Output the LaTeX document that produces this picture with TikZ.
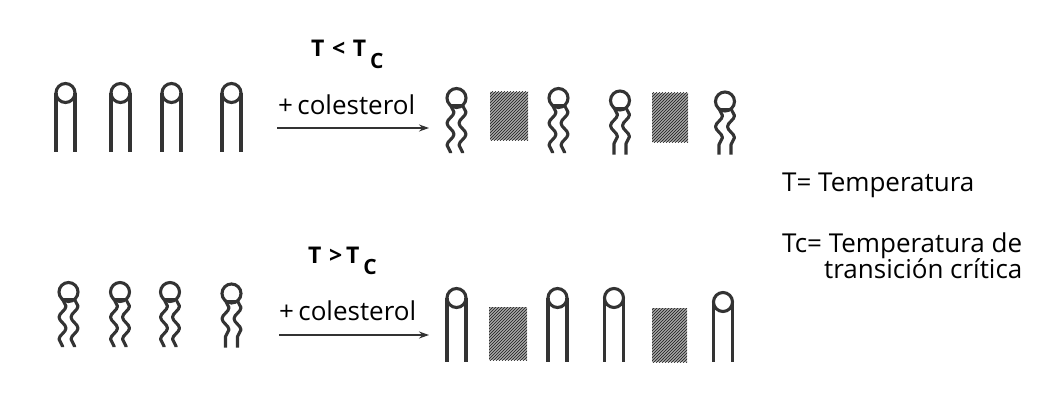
\documentclass[tikz,border=0pt]{standalone}
\usepackage{fontspec}
\setmainfont{Open Sans}
\usetikzlibrary{patterns,arrows.meta,decorations.pathmorphing}
\begin{document}
\begin{tikzpicture}[x=1pt,y=-1pt,
  lip/.style={draw=black!80, line width=3.1pt},
  tail/.style={lip, line join=round, decorate,
    decoration={snake, amplitude=3.5pt, segment length=22pt}},
  % phospholipid with straight (ordered) tails; #1 = tail length
  pics/rigid/.style={code={
    \draw[lip] (0,0) circle (9.5);
    \draw[lip] (-9.5,0) -- (-9.5,#1) (9.5,0) -- (9.5,#1);
  }},
  % phospholipid with wavy (disordered) tails; #1 = tail length
  pics/fluid/.style={code={
    \draw[lip] (0,0) circle (9.5);
    \draw[lip, line width=2pt] (-6,7.3) -- (6,7.3);
    \draw[tail] (-6,7.3) -- (-6,7+#1);
    \draw[tail] (6,7.3) -- (6,7+#1);
  }},
  chol/.style={fill=gray!70, draw=none, inner sep=0pt,
    postaction={pattern=north east lines, pattern color=black!90}},
  lbl/.style={inner sep=0pt, anchor=base west, text=black},
  conv/.style={draw=black!80, line width=2.4pt, -{Stealth[length=10pt,width=7pt]}}
]
\useasboundingbox (0,0) rectangle (1038,401);
\fill[white] (0,0) rectangle (1038,401);

% ---- upper row: T < Tc ----
\pic at (65.5,93) {rigid=59};
\pic at (120.5,93) {rigid=59};
\pic at (171.5,93) {rigid=59};
\pic at (231.5,93) {rigid=59};

\node[lbl, font=\fontsize{23}{26}\selectfont\bfseries] (t1) at (311,57)
  {T\,\,<\,\,T\,\raisebox{-0.9ex}{\fontsize{21}{24}\selectfont C}};
\node[lbl, font=\fontsize{26}{30}\selectfont] (c1) at (278,114) {+\,colesterol};
\coordinate (a1s) at (277,128);
\coordinate (a1e) at (429,128);
\draw[conv] (a1s) -- (a1e);

\pic at (456.5,98) {fluid=48};
\node[chol, minimum width=38, minimum height=48] (k1) at (509,116) {};
\pic at (558.5,98) {fluid=48};
\pic at (620,100.5) {fluid=47};
\node[chol, minimum width=36, minimum height=49] (k2) at (670,117.5) {};
\pic at (725,101.5) {fluid=46};

% ---- lower row: T > Tc ----
\pic at (68.5,292) {fluid=48};
\pic at (120,292) {fluid=48};
\pic at (170,292) {fluid=48};
\pic at (231.5,293.5) {fluid=47};

\node[lbl, font=\fontsize{23}{26}\selectfont\bfseries] (t2) at (308,263)
  {T\,\,>\,T\,\raisebox{-0.9ex}{\fontsize{21}{24}\selectfont C}};
\node[lbl, font=\fontsize{26}{30}\selectfont] (c2) at (279,320) {+\,colesterol};
\coordinate (a2s) at (279,335);
\coordinate (a2e) at (429,335);
\draw[conv] (a2s) -- (a2e);

\pic at (456.5,298) {rigid=64};
\node[chol, minimum width=38, minimum height=53] (k3) at (508,333.5) {};
\pic at (557.5,298) {rigid=64};
\pic at (614,298) {rigid=64};
\node[chol, minimum width=35, minimum height=54] (k4) at (669.5,335) {};
\pic at (723,302) {rigid=60};

% ---- legend ----
\node[lbl, font=\fontsize{26}{30}\selectfont] (l1) at (782,191) {T= Temperatura};
\node[lbl, font=\fontsize{26}{30}\selectfont] (l2) at (782,252) {Tc= Temperatura de};
\node[lbl, font=\fontsize{26}{30}\selectfont] (l3) at (824,278) {transición crítica};
\end{tikzpicture}
\end{document}
